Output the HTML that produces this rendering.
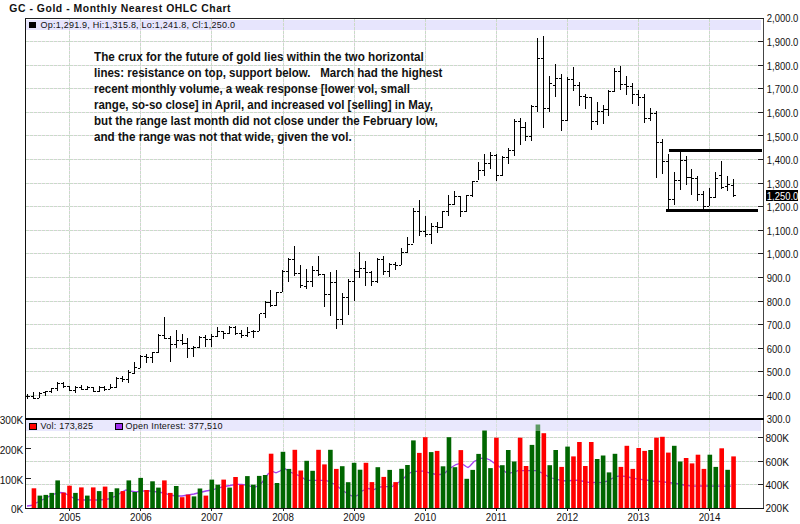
<!DOCTYPE html><html><head><meta charset="utf-8"><style>html,body{margin:0;padding:0;background:#fff;width:800px;height:524px;overflow:hidden}svg{display:block}text{font-family:"Liberation Sans",sans-serif}</style></head><body>
<svg width="800" height="524" viewBox="0 0 800 524" shape-rendering="crispEdges">
<rect width="800" height="524" fill="#fff"/>
<text x="9.3" y="11.5" font-size="10.4" font-weight="bold" fill="#111" letter-spacing="0.55">GC - Gold - Monthly Nearest OHLC Chart</text>
<rect x="26" y="20" width="735" height="10" fill="#e7e5fd"/>
<rect x="26" y="420" width="735" height="10.6" fill="#e9e8fd"/>
<line x1="26" y1="395.5" x2="762" y2="395.5" stroke="#f3d6f3" stroke-width="1"/>
<line x1="26" y1="395.5" x2="762" y2="395.5" stroke="#c9dcc9" stroke-width="1" stroke-dasharray="3,1"/>
<line x1="26" y1="371.5" x2="762" y2="371.5" stroke="#f3d6f3" stroke-width="1"/>
<line x1="26" y1="371.5" x2="762" y2="371.5" stroke="#c9dcc9" stroke-width="1" stroke-dasharray="3,1"/>
<line x1="26" y1="348.5" x2="762" y2="348.5" stroke="#f3d6f3" stroke-width="1"/>
<line x1="26" y1="348.5" x2="762" y2="348.5" stroke="#c9dcc9" stroke-width="1" stroke-dasharray="3,1"/>
<line x1="26" y1="324.5" x2="762" y2="324.5" stroke="#f3d6f3" stroke-width="1"/>
<line x1="26" y1="324.5" x2="762" y2="324.5" stroke="#c9dcc9" stroke-width="1" stroke-dasharray="3,1"/>
<line x1="26" y1="301.5" x2="762" y2="301.5" stroke="#f3d6f3" stroke-width="1"/>
<line x1="26" y1="301.5" x2="762" y2="301.5" stroke="#c9dcc9" stroke-width="1" stroke-dasharray="3,1"/>
<line x1="26" y1="277.5" x2="762" y2="277.5" stroke="#f3d6f3" stroke-width="1"/>
<line x1="26" y1="277.5" x2="762" y2="277.5" stroke="#c9dcc9" stroke-width="1" stroke-dasharray="3,1"/>
<line x1="26" y1="253.5" x2="762" y2="253.5" stroke="#f3d6f3" stroke-width="1"/>
<line x1="26" y1="253.5" x2="762" y2="253.5" stroke="#c9dcc9" stroke-width="1" stroke-dasharray="3,1"/>
<line x1="26" y1="230.5" x2="762" y2="230.5" stroke="#f3d6f3" stroke-width="1"/>
<line x1="26" y1="230.5" x2="762" y2="230.5" stroke="#c9dcc9" stroke-width="1" stroke-dasharray="3,1"/>
<line x1="26" y1="206.5" x2="762" y2="206.5" stroke="#f3d6f3" stroke-width="1"/>
<line x1="26" y1="206.5" x2="762" y2="206.5" stroke="#c9dcc9" stroke-width="1" stroke-dasharray="3,1"/>
<line x1="26" y1="183.5" x2="762" y2="183.5" stroke="#f3d6f3" stroke-width="1"/>
<line x1="26" y1="183.5" x2="762" y2="183.5" stroke="#c9dcc9" stroke-width="1" stroke-dasharray="3,1"/>
<line x1="26" y1="159.5" x2="762" y2="159.5" stroke="#f3d6f3" stroke-width="1"/>
<line x1="26" y1="159.5" x2="762" y2="159.5" stroke="#c9dcc9" stroke-width="1" stroke-dasharray="3,1"/>
<line x1="26" y1="135.5" x2="762" y2="135.5" stroke="#f3d6f3" stroke-width="1"/>
<line x1="26" y1="135.5" x2="762" y2="135.5" stroke="#c9dcc9" stroke-width="1" stroke-dasharray="3,1"/>
<line x1="26" y1="112.5" x2="762" y2="112.5" stroke="#f3d6f3" stroke-width="1"/>
<line x1="26" y1="112.5" x2="762" y2="112.5" stroke="#c9dcc9" stroke-width="1" stroke-dasharray="3,1"/>
<line x1="26" y1="88.5" x2="762" y2="88.5" stroke="#f3d6f3" stroke-width="1"/>
<line x1="26" y1="88.5" x2="762" y2="88.5" stroke="#c9dcc9" stroke-width="1" stroke-dasharray="3,1"/>
<line x1="26" y1="65.5" x2="762" y2="65.5" stroke="#f3d6f3" stroke-width="1"/>
<line x1="26" y1="65.5" x2="762" y2="65.5" stroke="#c9dcc9" stroke-width="1" stroke-dasharray="3,1"/>
<line x1="26" y1="41.5" x2="762" y2="41.5" stroke="#f3d6f3" stroke-width="1"/>
<line x1="26" y1="41.5" x2="762" y2="41.5" stroke="#c9dcc9" stroke-width="1" stroke-dasharray="3,1"/>
<line x1="69.5" y1="19" x2="69.5" y2="418" stroke="#f3d6f3" stroke-width="1"/>
<line x1="69.5" y1="19" x2="69.5" y2="418" stroke="#c9dcc9" stroke-width="1" stroke-dasharray="3,1"/>
<line x1="69.5" y1="420" x2="69.5" y2="508" stroke="#f3d6f3" stroke-width="1"/>
<line x1="69.5" y1="420" x2="69.5" y2="508" stroke="#c9dcc9" stroke-width="1" stroke-dasharray="3,1"/>
<line x1="140.5" y1="19" x2="140.5" y2="418" stroke="#f3d6f3" stroke-width="1"/>
<line x1="140.5" y1="19" x2="140.5" y2="418" stroke="#c9dcc9" stroke-width="1" stroke-dasharray="3,1"/>
<line x1="140.5" y1="420" x2="140.5" y2="508" stroke="#f3d6f3" stroke-width="1"/>
<line x1="140.5" y1="420" x2="140.5" y2="508" stroke="#c9dcc9" stroke-width="1" stroke-dasharray="3,1"/>
<line x1="211.5" y1="19" x2="211.5" y2="418" stroke="#f3d6f3" stroke-width="1"/>
<line x1="211.5" y1="19" x2="211.5" y2="418" stroke="#c9dcc9" stroke-width="1" stroke-dasharray="3,1"/>
<line x1="211.5" y1="420" x2="211.5" y2="508" stroke="#f3d6f3" stroke-width="1"/>
<line x1="211.5" y1="420" x2="211.5" y2="508" stroke="#c9dcc9" stroke-width="1" stroke-dasharray="3,1"/>
<line x1="283.5" y1="19" x2="283.5" y2="418" stroke="#f3d6f3" stroke-width="1"/>
<line x1="283.5" y1="19" x2="283.5" y2="418" stroke="#c9dcc9" stroke-width="1" stroke-dasharray="3,1"/>
<line x1="283.5" y1="420" x2="283.5" y2="508" stroke="#f3d6f3" stroke-width="1"/>
<line x1="283.5" y1="420" x2="283.5" y2="508" stroke="#c9dcc9" stroke-width="1" stroke-dasharray="3,1"/>
<line x1="354.5" y1="19" x2="354.5" y2="418" stroke="#f3d6f3" stroke-width="1"/>
<line x1="354.5" y1="19" x2="354.5" y2="418" stroke="#c9dcc9" stroke-width="1" stroke-dasharray="3,1"/>
<line x1="354.5" y1="420" x2="354.5" y2="508" stroke="#f3d6f3" stroke-width="1"/>
<line x1="354.5" y1="420" x2="354.5" y2="508" stroke="#c9dcc9" stroke-width="1" stroke-dasharray="3,1"/>
<line x1="425.5" y1="19" x2="425.5" y2="418" stroke="#f3d6f3" stroke-width="1"/>
<line x1="425.5" y1="19" x2="425.5" y2="418" stroke="#c9dcc9" stroke-width="1" stroke-dasharray="3,1"/>
<line x1="425.5" y1="420" x2="425.5" y2="508" stroke="#f3d6f3" stroke-width="1"/>
<line x1="425.5" y1="420" x2="425.5" y2="508" stroke="#c9dcc9" stroke-width="1" stroke-dasharray="3,1"/>
<line x1="496.5" y1="19" x2="496.5" y2="418" stroke="#f3d6f3" stroke-width="1"/>
<line x1="496.5" y1="19" x2="496.5" y2="418" stroke="#c9dcc9" stroke-width="1" stroke-dasharray="3,1"/>
<line x1="496.5" y1="420" x2="496.5" y2="508" stroke="#f3d6f3" stroke-width="1"/>
<line x1="496.5" y1="420" x2="496.5" y2="508" stroke="#c9dcc9" stroke-width="1" stroke-dasharray="3,1"/>
<line x1="567.5" y1="19" x2="567.5" y2="418" stroke="#f3d6f3" stroke-width="1"/>
<line x1="567.5" y1="19" x2="567.5" y2="418" stroke="#c9dcc9" stroke-width="1" stroke-dasharray="3,1"/>
<line x1="567.5" y1="420" x2="567.5" y2="508" stroke="#f3d6f3" stroke-width="1"/>
<line x1="567.5" y1="420" x2="567.5" y2="508" stroke="#c9dcc9" stroke-width="1" stroke-dasharray="3,1"/>
<line x1="638.5" y1="19" x2="638.5" y2="418" stroke="#f3d6f3" stroke-width="1"/>
<line x1="638.5" y1="19" x2="638.5" y2="418" stroke="#c9dcc9" stroke-width="1" stroke-dasharray="3,1"/>
<line x1="638.5" y1="420" x2="638.5" y2="508" stroke="#f3d6f3" stroke-width="1"/>
<line x1="638.5" y1="420" x2="638.5" y2="508" stroke="#c9dcc9" stroke-width="1" stroke-dasharray="3,1"/>
<line x1="709.5" y1="19" x2="709.5" y2="418" stroke="#f3d6f3" stroke-width="1"/>
<line x1="709.5" y1="19" x2="709.5" y2="418" stroke="#c9dcc9" stroke-width="1" stroke-dasharray="3,1"/>
<line x1="709.5" y1="420" x2="709.5" y2="508" stroke="#f3d6f3" stroke-width="1"/>
<line x1="709.5" y1="420" x2="709.5" y2="508" stroke="#c9dcc9" stroke-width="1" stroke-dasharray="3,1"/>
<line x1="26" y1="437.5" x2="762" y2="437.5" stroke="#f3d6f3" stroke-width="1"/>
<line x1="26" y1="437.5" x2="762" y2="437.5" stroke="#c9dcc9" stroke-width="1" stroke-dasharray="3,1"/>
<line x1="26" y1="461.5" x2="762" y2="461.5" stroke="#f3d6f3" stroke-width="1"/>
<line x1="26" y1="461.5" x2="762" y2="461.5" stroke="#c9dcc9" stroke-width="1" stroke-dasharray="3,1"/>
<line x1="26" y1="484.5" x2="762" y2="484.5" stroke="#f3d6f3" stroke-width="1"/>
<line x1="26" y1="484.5" x2="762" y2="484.5" stroke="#c9dcc9" stroke-width="1" stroke-dasharray="3,1"/>
<polyline points="27,506 31,505.5 36,503 42,500 48,497 54,494 60,492.5 64,493 70,496 76,499.5 84,500 92,500 100,500 108,499 116,496 122,492 126,490 130,491 136,492 142,491 150,491 158,492 164,493 170,495 176,496 182,496 188,495 194,494 200,492.5 206,491 212,490 218,488 224,486.5 230,485.5 236,484.3 242,484.3 248,485.5 254,487.5 260,485 264,480 268,474 272,471.2 276,472.8 280,471 284,468 290,472 296,474.3 302,477 306,480.4 312,480.4 318,480.4 322,480.4 326,480.4 330,482 336,485 342,490 348,494 354,497 358,495 362,491 368,488.5 374,489.5 380,487 386,486.6 392,486.6 398,483 404,478 408,474 412,472 418,471.2 424,471.2 430,473 436,474.5 440,474.5 444,474 448,470 452,467 456,464.5 460,463.4 464,465 466,466.5 468,467.5 470,466 474,461.5 478,459.5 482,458.2 486,458.5 490,460 494,463 498,465.5 502,469 506,472.5 510,473.2 514,472 518,470.6 530,470.6 536,470.6 540,472 544,474 548,476.5 552,478 556,479.2 560,480.2 566,481 572,480.5 578,480.2 584,481.5 590,482.7 596,482.4 602,482.7 608,481 612,478.5 616,476.5 620,475.8 626,476.5 632,478 638,479.2 646,480 652,481 660,481.5 668,482.5 676,483.5 684,485 692,486.1 700,486 708,486 716,486.1 724,486.1 731,486.1" fill="none" stroke="#a040f0" stroke-width="1.3" shape-rendering="auto"/>
<rect x="31.64" y="488.3" width="4.6" height="19.7" fill="#ff0000" shape-rendering="auto"/>
<rect x="37.57" y="495.6" width="4.6" height="12.4" fill="#006600" shape-rendering="auto"/>
<rect x="43.50" y="494.9" width="4.6" height="13.1" fill="#006600" shape-rendering="auto"/>
<rect x="49.43" y="492.9" width="4.6" height="15.1" fill="#006600" shape-rendering="auto"/>
<rect x="55.36" y="480.4" width="4.6" height="27.6" fill="#006600" shape-rendering="auto"/>
<rect x="61.28" y="492.6" width="4.6" height="15.4" fill="#ff0000" shape-rendering="auto"/>
<rect x="67.21" y="485.7" width="4.6" height="22.3" fill="#ff0000" shape-rendering="auto"/>
<rect x="73.14" y="492.9" width="4.6" height="15.1" fill="#006600" shape-rendering="auto"/>
<rect x="79.07" y="487.4" width="4.6" height="20.6" fill="#ff0000" shape-rendering="auto"/>
<rect x="85.00" y="495.6" width="4.6" height="12.4" fill="#006600" shape-rendering="auto"/>
<rect x="90.93" y="487.4" width="4.6" height="20.6" fill="#ff0000" shape-rendering="auto"/>
<rect x="96.86" y="491.1" width="4.6" height="16.9" fill="#006600" shape-rendering="auto"/>
<rect x="102.79" y="486.6" width="4.6" height="21.4" fill="#ff0000" shape-rendering="auto"/>
<rect x="108.72" y="492.0" width="4.6" height="16.0" fill="#006600" shape-rendering="auto"/>
<rect x="114.64" y="488.3" width="4.6" height="19.7" fill="#006600" shape-rendering="auto"/>
<rect x="120.57" y="491.1" width="4.6" height="16.9" fill="#ff0000" shape-rendering="auto"/>
<rect x="126.50" y="480.4" width="4.6" height="27.6" fill="#006600" shape-rendering="auto"/>
<rect x="132.43" y="492.0" width="4.6" height="16.0" fill="#006600" shape-rendering="auto"/>
<rect x="138.36" y="477.9" width="4.6" height="30.1" fill="#006600" shape-rendering="auto"/>
<rect x="144.29" y="490.0" width="4.6" height="18.0" fill="#ff0000" shape-rendering="auto"/>
<rect x="150.22" y="481.3" width="4.6" height="26.7" fill="#006600" shape-rendering="auto"/>
<rect x="156.15" y="487.6" width="4.6" height="20.4" fill="#006600" shape-rendering="auto"/>
<rect x="162.08" y="480.4" width="4.6" height="27.6" fill="#ff0000" shape-rendering="auto"/>
<rect x="168.01" y="492.9" width="4.6" height="15.1" fill="#ff0000" shape-rendering="auto"/>
<rect x="173.94" y="486.0" width="4.6" height="22.0" fill="#006600" shape-rendering="auto"/>
<rect x="179.86" y="497.2" width="4.6" height="10.8" fill="#ff0000" shape-rendering="auto"/>
<rect x="185.79" y="494.6" width="4.6" height="13.4" fill="#ff0000" shape-rendering="auto"/>
<rect x="191.72" y="496.4" width="4.6" height="11.6" fill="#006600" shape-rendering="auto"/>
<rect x="197.65" y="488.5" width="4.6" height="19.5" fill="#006600" shape-rendering="auto"/>
<rect x="203.58" y="495.6" width="4.6" height="12.4" fill="#ff0000" shape-rendering="auto"/>
<rect x="209.51" y="479.6" width="4.6" height="28.4" fill="#006600" shape-rendering="auto"/>
<rect x="215.44" y="484.7" width="4.6" height="23.3" fill="#006600" shape-rendering="auto"/>
<rect x="221.37" y="479.6" width="4.6" height="28.4" fill="#ff0000" shape-rendering="auto"/>
<rect x="227.30" y="487.6" width="4.6" height="20.4" fill="#006600" shape-rendering="auto"/>
<rect x="233.23" y="477.0" width="4.6" height="31.0" fill="#ff0000" shape-rendering="auto"/>
<rect x="239.15" y="484.7" width="4.6" height="23.3" fill="#ff0000" shape-rendering="auto"/>
<rect x="245.08" y="476.1" width="4.6" height="31.9" fill="#006600" shape-rendering="auto"/>
<rect x="251.01" y="484.7" width="4.6" height="23.3" fill="#006600" shape-rendering="auto"/>
<rect x="256.94" y="475.9" width="4.6" height="32.1" fill="#006600" shape-rendering="auto"/>
<rect x="262.87" y="475.0" width="4.6" height="33.0" fill="#006600" shape-rendering="auto"/>
<rect x="268.80" y="453.7" width="4.6" height="54.3" fill="#ff0000" shape-rendering="auto"/>
<rect x="274.73" y="483.0" width="4.6" height="25.0" fill="#006600" shape-rendering="auto"/>
<rect x="280.66" y="451.8" width="4.6" height="56.2" fill="#006600" shape-rendering="auto"/>
<rect x="286.59" y="468.9" width="4.6" height="39.1" fill="#006600" shape-rendering="auto"/>
<rect x="292.52" y="449.8" width="4.6" height="58.2" fill="#ff0000" shape-rendering="auto"/>
<rect x="298.44" y="470.5" width="4.6" height="37.5" fill="#ff0000" shape-rendering="auto"/>
<rect x="304.37" y="460.8" width="4.6" height="47.2" fill="#006600" shape-rendering="auto"/>
<rect x="310.30" y="470.8" width="4.6" height="37.2" fill="#006600" shape-rendering="auto"/>
<rect x="316.23" y="449.8" width="4.6" height="58.2" fill="#ff0000" shape-rendering="auto"/>
<rect x="322.16" y="464.4" width="4.6" height="43.6" fill="#ff0000" shape-rendering="auto"/>
<rect x="328.09" y="449.8" width="4.6" height="58.2" fill="#006600" shape-rendering="auto"/>
<rect x="334.02" y="468.9" width="4.6" height="39.1" fill="#ff0000" shape-rendering="auto"/>
<rect x="339.95" y="466.2" width="4.6" height="41.8" fill="#006600" shape-rendering="auto"/>
<rect x="345.88" y="482.2" width="4.6" height="25.8" fill="#006600" shape-rendering="auto"/>
<rect x="351.81" y="462.8" width="4.6" height="45.2" fill="#006600" shape-rendering="auto"/>
<rect x="357.73" y="469.7" width="4.6" height="38.3" fill="#006600" shape-rendering="auto"/>
<rect x="363.66" y="462.8" width="4.6" height="45.2" fill="#ff0000" shape-rendering="auto"/>
<rect x="369.59" y="482.1" width="4.6" height="25.9" fill="#ff0000" shape-rendering="auto"/>
<rect x="375.52" y="467.2" width="4.6" height="40.8" fill="#006600" shape-rendering="auto"/>
<rect x="381.45" y="476.9" width="4.6" height="31.1" fill="#ff0000" shape-rendering="auto"/>
<rect x="387.38" y="469.9" width="4.6" height="38.1" fill="#006600" shape-rendering="auto"/>
<rect x="393.31" y="482.1" width="4.6" height="25.9" fill="#ff0000" shape-rendering="auto"/>
<rect x="399.24" y="468.8" width="4.6" height="39.2" fill="#006600" shape-rendering="auto"/>
<rect x="405.17" y="465.0" width="4.6" height="43.0" fill="#006600" shape-rendering="auto"/>
<rect x="411.10" y="440.4" width="4.6" height="67.6" fill="#006600" shape-rendering="auto"/>
<rect x="417.02" y="452.9" width="4.6" height="55.1" fill="#ff0000" shape-rendering="auto"/>
<rect x="422.95" y="437.2" width="4.6" height="70.8" fill="#ff0000" shape-rendering="auto"/>
<rect x="428.88" y="452.1" width="4.6" height="55.9" fill="#006600" shape-rendering="auto"/>
<rect x="434.81" y="450.9" width="4.6" height="57.1" fill="#ff0000" shape-rendering="auto"/>
<rect x="440.74" y="466.3" width="4.6" height="41.7" fill="#006600" shape-rendering="auto"/>
<rect x="446.67" y="437.2" width="4.6" height="70.8" fill="#006600" shape-rendering="auto"/>
<rect x="452.60" y="467.2" width="4.6" height="40.8" fill="#006600" shape-rendering="auto"/>
<rect x="458.53" y="450.1" width="4.6" height="57.9" fill="#ff0000" shape-rendering="auto"/>
<rect x="464.46" y="478.8" width="4.6" height="29.2" fill="#006600" shape-rendering="auto"/>
<rect x="470.39" y="469.9" width="4.6" height="38.1" fill="#006600" shape-rendering="auto"/>
<rect x="476.31" y="453.9" width="4.6" height="54.1" fill="#006600" shape-rendering="auto"/>
<rect x="482.24" y="430.2" width="4.6" height="77.8" fill="#006600" shape-rendering="auto"/>
<rect x="488.17" y="468.1" width="4.6" height="39.9" fill="#006600" shape-rendering="auto"/>
<rect x="494.10" y="437.7" width="4.6" height="70.3" fill="#ff0000" shape-rendering="auto"/>
<rect x="500.03" y="465.2" width="4.6" height="42.8" fill="#006600" shape-rendering="auto"/>
<rect x="505.96" y="450.0" width="4.6" height="58.0" fill="#006600" shape-rendering="auto"/>
<rect x="511.89" y="461.5" width="4.6" height="46.5" fill="#006600" shape-rendering="auto"/>
<rect x="517.82" y="437.7" width="4.6" height="70.3" fill="#ff0000" shape-rendering="auto"/>
<rect x="523.75" y="466.0" width="4.6" height="42.0" fill="#ff0000" shape-rendering="auto"/>
<rect x="529.67" y="444.9" width="4.6" height="63.1" fill="#006600" shape-rendering="auto"/>
<rect x="535.60" y="424.5" width="4.6" height="83.5" fill="#006600" shape-rendering="auto"/>
<rect x="541.53" y="433.2" width="4.6" height="74.8" fill="#ff0000" shape-rendering="auto"/>
<rect x="547.46" y="465.2" width="4.6" height="42.8" fill="#006600" shape-rendering="auto"/>
<rect x="553.39" y="450.0" width="4.6" height="58.0" fill="#006600" shape-rendering="auto"/>
<rect x="559.32" y="466.9" width="4.6" height="41.1" fill="#ff0000" shape-rendering="auto"/>
<rect x="565.25" y="446.6" width="4.6" height="61.4" fill="#006600" shape-rendering="auto"/>
<rect x="571.18" y="456.4" width="4.6" height="51.6" fill="#ff0000" shape-rendering="auto"/>
<rect x="577.11" y="442.0" width="4.6" height="66.0" fill="#ff0000" shape-rendering="auto"/>
<rect x="583.04" y="466.0" width="4.6" height="42.0" fill="#ff0000" shape-rendering="auto"/>
<rect x="588.96" y="442.0" width="4.6" height="66.0" fill="#ff0000" shape-rendering="auto"/>
<rect x="594.89" y="459.0" width="4.6" height="49.0" fill="#006600" shape-rendering="auto"/>
<rect x="600.82" y="455.5" width="4.6" height="52.5" fill="#006600" shape-rendering="auto"/>
<rect x="606.75" y="472.4" width="4.6" height="35.6" fill="#006600" shape-rendering="auto"/>
<rect x="612.68" y="453.8" width="4.6" height="54.2" fill="#006600" shape-rendering="auto"/>
<rect x="618.61" y="466.9" width="4.6" height="41.1" fill="#ff0000" shape-rendering="auto"/>
<rect x="624.54" y="445.8" width="4.6" height="62.2" fill="#ff0000" shape-rendering="auto"/>
<rect x="630.47" y="468.9" width="4.6" height="39.1" fill="#ff0000" shape-rendering="auto"/>
<rect x="636.40" y="448.0" width="4.6" height="60.0" fill="#ff0000" shape-rendering="auto"/>
<rect x="642.33" y="450.9" width="4.6" height="57.1" fill="#ff0000" shape-rendering="auto"/>
<rect x="648.25" y="450.0" width="4.6" height="58.0" fill="#006600" shape-rendering="auto"/>
<rect x="654.18" y="437.7" width="4.6" height="70.3" fill="#ff0000" shape-rendering="auto"/>
<rect x="660.11" y="436.8" width="4.6" height="71.2" fill="#ff0000" shape-rendering="auto"/>
<rect x="666.04" y="452.6" width="4.6" height="55.4" fill="#ff0000" shape-rendering="auto"/>
<rect x="671.97" y="445.8" width="4.6" height="62.2" fill="#006600" shape-rendering="auto"/>
<rect x="677.90" y="461.5" width="4.6" height="46.5" fill="#006600" shape-rendering="auto"/>
<rect x="683.83" y="458.0" width="4.6" height="50.0" fill="#ff0000" shape-rendering="auto"/>
<rect x="689.76" y="463.4" width="4.6" height="44.6" fill="#ff0000" shape-rendering="auto"/>
<rect x="695.69" y="454.7" width="4.6" height="53.3" fill="#ff0000" shape-rendering="auto"/>
<rect x="701.62" y="468.9" width="4.6" height="39.1" fill="#ff0000" shape-rendering="auto"/>
<rect x="707.54" y="454.7" width="4.6" height="53.3" fill="#006600" shape-rendering="auto"/>
<rect x="713.47" y="466.9" width="4.6" height="41.1" fill="#006600" shape-rendering="auto"/>
<rect x="719.40" y="448.3" width="4.6" height="59.7" fill="#ff0000" shape-rendering="auto"/>
<rect x="725.33" y="469.8" width="4.6" height="38.2" fill="#006600" shape-rendering="auto"/>
<rect x="731.26" y="456.4" width="4.6" height="51.6" fill="#ff0000" shape-rendering="auto"/>
<rect x="26" y="420" width="735" height="10.6" fill="#e9e8fd" opacity="0.4"/>
<rect x="27" y="393.5" width="1" height="5.2" fill="#000"/>
<rect x="25" y="395.5" width="2" height="1.5" fill="#000"/>
<rect x="28" y="395.5" width="2" height="1.5" fill="#000"/>
<rect x="33" y="392.3" width="1" height="6.4" fill="#000"/>
<rect x="31" y="395.5" width="2" height="1.5" fill="#000"/>
<rect x="34" y="397.5" width="2" height="1.5" fill="#000"/>
<rect x="39" y="391.6" width="1" height="6.1" fill="#000"/>
<rect x="37" y="397.5" width="2" height="1.5" fill="#000"/>
<rect x="40" y="392.5" width="2" height="1.5" fill="#000"/>
<rect x="45" y="390.7" width="1" height="5.4" fill="#000"/>
<rect x="43" y="391.5" width="2" height="1.5" fill="#000"/>
<rect x="46" y="390.5" width="2" height="1.5" fill="#000"/>
<rect x="51" y="388.1" width="1" height="4.5" fill="#000"/>
<rect x="49" y="390.5" width="2" height="1.5" fill="#000"/>
<rect x="52" y="387.5" width="2" height="1.5" fill="#000"/>
<rect x="57" y="382.2" width="1" height="9.0" fill="#000"/>
<rect x="55" y="387.5" width="2" height="1.5" fill="#000"/>
<rect x="58" y="382.5" width="2" height="1.5" fill="#000"/>
<rect x="63" y="382.2" width="1" height="5.7" fill="#000"/>
<rect x="61" y="382.5" width="2" height="1.5" fill="#000"/>
<rect x="64" y="385.5" width="2" height="1.5" fill="#000"/>
<rect x="69" y="385.5" width="1" height="5.4" fill="#000"/>
<rect x="67" y="385.5" width="2" height="1.5" fill="#000"/>
<rect x="70" y="389.5" width="2" height="1.5" fill="#000"/>
<rect x="75" y="386.4" width="1" height="6.6" fill="#000"/>
<rect x="73" y="389.5" width="2" height="1.5" fill="#000"/>
<rect x="76" y="386.5" width="2" height="1.5" fill="#000"/>
<rect x="81" y="384.8" width="1" height="4.7" fill="#000"/>
<rect x="79" y="386.5" width="2" height="1.5" fill="#000"/>
<rect x="82" y="388.5" width="2" height="1.5" fill="#000"/>
<rect x="87" y="386.4" width="1" height="4.0" fill="#000"/>
<rect x="85" y="388.5" width="2" height="1.5" fill="#000"/>
<rect x="88" y="386.5" width="2" height="1.5" fill="#000"/>
<rect x="93" y="386.7" width="1" height="5.4" fill="#000"/>
<rect x="91" y="386.5" width="2" height="1.5" fill="#000"/>
<rect x="94" y="390.5" width="2" height="1.5" fill="#000"/>
<rect x="99" y="385.5" width="1" height="6.6" fill="#000"/>
<rect x="97" y="390.5" width="2" height="1.5" fill="#000"/>
<rect x="100" y="386.5" width="2" height="1.5" fill="#000"/>
<rect x="104" y="386.4" width="1" height="4.7" fill="#000"/>
<rect x="102" y="386.5" width="2" height="1.5" fill="#000"/>
<rect x="105" y="388.5" width="2" height="1.5" fill="#000"/>
<rect x="110" y="383.9" width="1" height="5.0" fill="#000"/>
<rect x="108" y="388.5" width="2" height="1.5" fill="#000"/>
<rect x="111" y="386.5" width="2" height="1.5" fill="#000"/>
<rect x="116" y="376.5" width="1" height="11.3" fill="#000"/>
<rect x="114" y="386.5" width="2" height="1.5" fill="#000"/>
<rect x="117" y="377.5" width="2" height="1.5" fill="#000"/>
<rect x="122" y="376.3" width="1" height="5.4" fill="#000"/>
<rect x="120" y="377.5" width="2" height="1.5" fill="#000"/>
<rect x="123" y="378.5" width="2" height="1.5" fill="#000"/>
<rect x="128" y="370.2" width="1" height="12.3" fill="#000"/>
<rect x="126" y="378.5" width="2" height="1.5" fill="#000"/>
<rect x="129" y="371.5" width="2" height="1.5" fill="#000"/>
<rect x="134" y="362.2" width="1" height="11.8" fill="#000"/>
<rect x="132" y="372.5" width="2" height="1.5" fill="#000"/>
<rect x="135" y="366.5" width="2" height="1.5" fill="#000"/>
<rect x="140" y="355.3" width="1" height="13.0" fill="#000"/>
<rect x="138" y="367.5" width="2" height="1.5" fill="#000"/>
<rect x="141" y="355.5" width="2" height="1.5" fill="#000"/>
<rect x="146" y="353.9" width="1" height="9.0" fill="#000"/>
<rect x="144" y="355.5" width="2" height="1.5" fill="#000"/>
<rect x="147" y="356.5" width="2" height="1.5" fill="#000"/>
<rect x="152" y="351.5" width="1" height="11.6" fill="#000"/>
<rect x="150" y="356.5" width="2" height="1.5" fill="#000"/>
<rect x="153" y="351.5" width="2" height="1.5" fill="#000"/>
<rect x="158" y="334.1" width="1" height="18.4" fill="#000"/>
<rect x="156" y="351.5" width="2" height="1.5" fill="#000"/>
<rect x="159" y="334.5" width="2" height="1.5" fill="#000"/>
<rect x="164" y="317.1" width="1" height="21.7" fill="#000"/>
<rect x="162" y="334.5" width="2" height="1.5" fill="#000"/>
<rect x="165" y="337.5" width="2" height="1.5" fill="#000"/>
<rect x="170" y="336.4" width="1" height="25.2" fill="#000"/>
<rect x="168" y="337.5" width="2" height="1.5" fill="#000"/>
<rect x="171" y="343.5" width="2" height="1.5" fill="#000"/>
<rect x="176" y="330.3" width="1" height="17.7" fill="#000"/>
<rect x="174" y="343.5" width="2" height="1.5" fill="#000"/>
<rect x="177" y="339.5" width="2" height="1.5" fill="#000"/>
<rect x="182" y="333.8" width="1" height="11.6" fill="#000"/>
<rect x="180" y="339.5" width="2" height="1.5" fill="#000"/>
<rect x="183" y="342.5" width="2" height="1.5" fill="#000"/>
<rect x="187" y="338.1" width="1" height="19.6" fill="#000"/>
<rect x="185" y="342.5" width="2" height="1.5" fill="#000"/>
<rect x="188" y="347.5" width="2" height="1.5" fill="#000"/>
<rect x="193" y="345.6" width="1" height="11.8" fill="#000"/>
<rect x="191" y="347.5" width="2" height="1.5" fill="#000"/>
<rect x="194" y="346.5" width="2" height="1.5" fill="#000"/>
<rect x="199" y="336.2" width="1" height="12.0" fill="#000"/>
<rect x="197" y="346.5" width="2" height="1.5" fill="#000"/>
<rect x="200" y="336.5" width="2" height="1.5" fill="#000"/>
<rect x="205" y="335.3" width="1" height="11.6" fill="#000"/>
<rect x="203" y="336.5" width="2" height="1.5" fill="#000"/>
<rect x="206" y="338.5" width="2" height="1.5" fill="#000"/>
<rect x="211" y="333.8" width="1" height="13.4" fill="#000"/>
<rect x="209" y="338.5" width="2" height="1.5" fill="#000"/>
<rect x="212" y="335.5" width="2" height="1.5" fill="#000"/>
<rect x="217" y="326.8" width="1" height="9.7" fill="#000"/>
<rect x="215" y="335.5" width="2" height="1.5" fill="#000"/>
<rect x="218" y="330.5" width="2" height="1.5" fill="#000"/>
<rect x="223" y="331.0" width="1" height="7.8" fill="#000"/>
<rect x="221" y="330.5" width="2" height="1.5" fill="#000"/>
<rect x="224" y="332.5" width="2" height="1.5" fill="#000"/>
<rect x="229" y="325.8" width="1" height="7.8" fill="#000"/>
<rect x="227" y="332.5" width="2" height="1.5" fill="#000"/>
<rect x="230" y="326.5" width="2" height="1.5" fill="#000"/>
<rect x="235" y="326.3" width="1" height="9.0" fill="#000"/>
<rect x="233" y="326.5" width="2" height="1.5" fill="#000"/>
<rect x="236" y="332.5" width="2" height="1.5" fill="#000"/>
<rect x="241" y="330.3" width="1" height="8.0" fill="#000"/>
<rect x="239" y="332.5" width="2" height="1.5" fill="#000"/>
<rect x="242" y="334.5" width="2" height="1.5" fill="#000"/>
<rect x="247" y="326.5" width="1" height="10.1" fill="#000"/>
<rect x="245" y="334.5" width="2" height="1.5" fill="#000"/>
<rect x="248" y="331.5" width="2" height="1.5" fill="#000"/>
<rect x="253" y="330.3" width="1" height="7.8" fill="#000"/>
<rect x="251" y="330.5" width="2" height="1.5" fill="#000"/>
<rect x="254" y="330.5" width="2" height="1.5" fill="#000"/>
<rect x="259" y="313.8" width="1" height="17.5" fill="#000"/>
<rect x="257" y="330.5" width="2" height="1.5" fill="#000"/>
<rect x="260" y="312.5" width="2" height="1.5" fill="#000"/>
<rect x="265" y="301.1" width="1" height="17.2" fill="#000"/>
<rect x="263" y="312.5" width="2" height="1.5" fill="#000"/>
<rect x="266" y="301.5" width="2" height="1.5" fill="#000"/>
<rect x="270" y="289.7" width="1" height="17.2" fill="#000"/>
<rect x="268" y="301.5" width="2" height="1.5" fill="#000"/>
<rect x="271" y="304.5" width="2" height="1.5" fill="#000"/>
<rect x="276" y="291.6" width="1" height="14.2" fill="#000"/>
<rect x="274" y="304.5" width="2" height="1.5" fill="#000"/>
<rect x="277" y="291.5" width="2" height="1.5" fill="#000"/>
<rect x="282" y="270.4" width="1" height="21.2" fill="#000"/>
<rect x="280" y="291.5" width="2" height="1.5" fill="#000"/>
<rect x="283" y="270.5" width="2" height="1.5" fill="#000"/>
<rect x="288" y="258.1" width="1" height="24.1" fill="#000"/>
<rect x="286" y="270.5" width="2" height="1.5" fill="#000"/>
<rect x="289" y="258.5" width="2" height="1.5" fill="#000"/>
<rect x="294" y="245.9" width="1" height="30.4" fill="#000"/>
<rect x="292" y="258.5" width="2" height="1.5" fill="#000"/>
<rect x="295" y="272.5" width="2" height="1.5" fill="#000"/>
<rect x="300" y="265.4" width="1" height="22.4" fill="#000"/>
<rect x="298" y="272.5" width="2" height="1.5" fill="#000"/>
<rect x="301" y="284.5" width="2" height="1.5" fill="#000"/>
<rect x="306" y="269.2" width="1" height="20.0" fill="#000"/>
<rect x="304" y="285.5" width="2" height="1.5" fill="#000"/>
<rect x="307" y="280.5" width="2" height="1.5" fill="#000"/>
<rect x="312" y="265.9" width="1" height="21.5" fill="#000"/>
<rect x="310" y="280.5" width="2" height="1.5" fill="#000"/>
<rect x="313" y="269.5" width="2" height="1.5" fill="#000"/>
<rect x="318" y="256.0" width="1" height="19.8" fill="#000"/>
<rect x="316" y="269.5" width="2" height="1.5" fill="#000"/>
<rect x="319" y="273.5" width="2" height="1.5" fill="#000"/>
<rect x="324" y="273.9" width="1" height="33.5" fill="#000"/>
<rect x="322" y="273.5" width="2" height="1.5" fill="#000"/>
<rect x="325" y="293.5" width="2" height="1.5" fill="#000"/>
<rect x="330" y="271.6" width="1" height="43.9" fill="#000"/>
<rect x="328" y="293.5" width="2" height="1.5" fill="#000"/>
<rect x="331" y="281.5" width="2" height="1.5" fill="#000"/>
<rect x="336" y="270.4" width="1" height="58.7" fill="#000"/>
<rect x="334" y="281.5" width="2" height="1.5" fill="#000"/>
<rect x="337" y="318.5" width="2" height="1.5" fill="#000"/>
<rect x="342" y="293.0" width="1" height="31.6" fill="#000"/>
<rect x="340" y="318.5" width="2" height="1.5" fill="#000"/>
<rect x="343" y="296.5" width="2" height="1.5" fill="#000"/>
<rect x="348" y="279.4" width="1" height="35.9" fill="#000"/>
<rect x="346" y="296.5" width="2" height="1.5" fill="#000"/>
<rect x="349" y="280.5" width="2" height="1.5" fill="#000"/>
<rect x="354" y="268.7" width="1" height="31.8" fill="#000"/>
<rect x="352" y="280.5" width="2" height="1.5" fill="#000"/>
<rect x="355" y="270.5" width="2" height="1.5" fill="#000"/>
<rect x="359" y="252.2" width="1" height="25.7" fill="#000"/>
<rect x="357" y="270.5" width="2" height="1.5" fill="#000"/>
<rect x="360" y="267.5" width="2" height="1.5" fill="#000"/>
<rect x="365" y="261.4" width="1" height="24.1" fill="#000"/>
<rect x="363" y="267.5" width="2" height="1.5" fill="#000"/>
<rect x="366" y="271.5" width="2" height="1.5" fill="#000"/>
<rect x="371" y="271.1" width="1" height="14.6" fill="#000"/>
<rect x="369" y="271.5" width="2" height="1.5" fill="#000"/>
<rect x="372" y="280.5" width="2" height="1.5" fill="#000"/>
<rect x="377" y="257.7" width="1" height="24.8" fill="#000"/>
<rect x="375" y="280.5" width="2" height="1.5" fill="#000"/>
<rect x="378" y="258.5" width="2" height="1.5" fill="#000"/>
<rect x="383" y="255.8" width="1" height="19.3" fill="#000"/>
<rect x="381" y="258.5" width="2" height="1.5" fill="#000"/>
<rect x="384" y="270.5" width="2" height="1.5" fill="#000"/>
<rect x="389" y="263.3" width="1" height="13.2" fill="#000"/>
<rect x="387" y="270.5" width="2" height="1.5" fill="#000"/>
<rect x="390" y="263.5" width="2" height="1.5" fill="#000"/>
<rect x="395" y="262.1" width="1" height="8.3" fill="#000"/>
<rect x="393" y="263.5" width="2" height="1.5" fill="#000"/>
<rect x="396" y="264.5" width="2" height="1.5" fill="#000"/>
<rect x="401" y="248.0" width="1" height="17.2" fill="#000"/>
<rect x="399" y="264.5" width="2" height="1.5" fill="#000"/>
<rect x="402" y="251.5" width="2" height="1.5" fill="#000"/>
<rect x="407" y="237.4" width="1" height="15.8" fill="#000"/>
<rect x="405" y="251.5" width="2" height="1.5" fill="#000"/>
<rect x="408" y="243.5" width="2" height="1.5" fill="#000"/>
<rect x="413" y="207.9" width="1" height="35.4" fill="#000"/>
<rect x="411" y="243.5" width="2" height="1.5" fill="#000"/>
<rect x="414" y="210.5" width="2" height="1.5" fill="#000"/>
<rect x="419" y="200.3" width="1" height="35.9" fill="#000"/>
<rect x="417" y="210.5" width="2" height="1.5" fill="#000"/>
<rect x="420" y="230.5" width="2" height="1.5" fill="#000"/>
<rect x="425" y="215.7" width="1" height="20.8" fill="#000"/>
<rect x="423" y="230.5" width="2" height="1.5" fill="#000"/>
<rect x="426" y="233.5" width="2" height="1.5" fill="#000"/>
<rect x="431" y="223.0" width="1" height="20.5" fill="#000"/>
<rect x="429" y="233.5" width="2" height="1.5" fill="#000"/>
<rect x="432" y="225.5" width="2" height="1.5" fill="#000"/>
<rect x="437" y="222.0" width="1" height="11.1" fill="#000"/>
<rect x="435" y="225.5" width="2" height="1.5" fill="#000"/>
<rect x="438" y="226.5" width="2" height="1.5" fill="#000"/>
<rect x="442" y="211.4" width="1" height="16.5" fill="#000"/>
<rect x="440" y="226.5" width="2" height="1.5" fill="#000"/>
<rect x="443" y="210.5" width="2" height="1.5" fill="#000"/>
<rect x="448" y="195.1" width="1" height="21.2" fill="#000"/>
<rect x="446" y="210.5" width="2" height="1.5" fill="#000"/>
<rect x="449" y="203.5" width="2" height="1.5" fill="#000"/>
<rect x="454" y="191.1" width="1" height="13.9" fill="#000"/>
<rect x="452" y="203.5" width="2" height="1.5" fill="#000"/>
<rect x="455" y="195.5" width="2" height="1.5" fill="#000"/>
<rect x="460" y="195.6" width="1" height="21.7" fill="#000"/>
<rect x="458" y="195.5" width="2" height="1.5" fill="#000"/>
<rect x="461" y="210.5" width="2" height="1.5" fill="#000"/>
<rect x="466" y="194.9" width="1" height="17.5" fill="#000"/>
<rect x="464" y="210.5" width="2" height="1.5" fill="#000"/>
<rect x="467" y="194.5" width="2" height="1.5" fill="#000"/>
<rect x="472" y="180.5" width="1" height="16.3" fill="#000"/>
<rect x="470" y="194.5" width="2" height="1.5" fill="#000"/>
<rect x="473" y="180.5" width="2" height="1.5" fill="#000"/>
<rect x="478" y="162.4" width="1" height="17.2" fill="#000"/>
<rect x="476" y="180.5" width="2" height="1.5" fill="#000"/>
<rect x="479" y="169.5" width="2" height="1.5" fill="#000"/>
<rect x="484" y="153.9" width="1" height="22.2" fill="#000"/>
<rect x="482" y="169.5" width="2" height="1.5" fill="#000"/>
<rect x="485" y="162.5" width="2" height="1.5" fill="#000"/>
<rect x="490" y="152.0" width="1" height="17.0" fill="#000"/>
<rect x="488" y="162.5" width="2" height="1.5" fill="#000"/>
<rect x="491" y="154.5" width="2" height="1.5" fill="#000"/>
<rect x="496" y="153.9" width="1" height="27.1" fill="#000"/>
<rect x="494" y="154.5" width="2" height="1.5" fill="#000"/>
<rect x="497" y="174.5" width="2" height="1.5" fill="#000"/>
<rect x="502" y="155.8" width="1" height="20.3" fill="#000"/>
<rect x="500" y="174.5" width="2" height="1.5" fill="#000"/>
<rect x="503" y="156.5" width="2" height="1.5" fill="#000"/>
<rect x="508" y="148.4" width="1" height="15.1" fill="#000"/>
<rect x="506" y="156.5" width="2" height="1.5" fill="#000"/>
<rect x="509" y="149.5" width="2" height="1.5" fill="#000"/>
<rect x="514" y="119.0" width="1" height="36.6" fill="#000"/>
<rect x="512" y="149.5" width="2" height="1.5" fill="#000"/>
<rect x="515" y="120.5" width="2" height="1.5" fill="#000"/>
<rect x="520" y="117.5" width="1" height="27.4" fill="#000"/>
<rect x="518" y="120.5" width="2" height="1.5" fill="#000"/>
<rect x="521" y="126.5" width="2" height="1.5" fill="#000"/>
<rect x="525" y="121.8" width="1" height="19.6" fill="#000"/>
<rect x="523" y="126.5" width="2" height="1.5" fill="#000"/>
<rect x="526" y="135.5" width="2" height="1.5" fill="#000"/>
<rect x="531" y="104.8" width="1" height="36.3" fill="#000"/>
<rect x="529" y="135.5" width="2" height="1.5" fill="#000"/>
<rect x="532" y="105.5" width="2" height="1.5" fill="#000"/>
<rect x="537" y="37.6" width="1" height="74.1" fill="#000"/>
<rect x="535" y="105.5" width="2" height="1.5" fill="#000"/>
<rect x="538" y="57.5" width="2" height="1.5" fill="#000"/>
<rect x="543" y="36.2" width="1" height="91.5" fill="#000"/>
<rect x="541" y="57.5" width="2" height="1.5" fill="#000"/>
<rect x="544" y="107.5" width="2" height="1.5" fill="#000"/>
<rect x="549" y="76.0" width="1" height="35.6" fill="#000"/>
<rect x="547" y="107.5" width="2" height="1.5" fill="#000"/>
<rect x="550" y="82.5" width="2" height="1.5" fill="#000"/>
<rect x="555" y="64.2" width="1" height="32.3" fill="#000"/>
<rect x="553" y="84.5" width="2" height="1.5" fill="#000"/>
<rect x="556" y="77.5" width="2" height="1.5" fill="#000"/>
<rect x="561" y="73.7" width="1" height="56.8" fill="#000"/>
<rect x="559" y="77.5" width="2" height="1.5" fill="#000"/>
<rect x="562" y="119.5" width="2" height="1.5" fill="#000"/>
<rect x="567" y="77.0" width="1" height="44.1" fill="#000"/>
<rect x="565" y="119.5" width="2" height="1.5" fill="#000"/>
<rect x="568" y="78.5" width="2" height="1.5" fill="#000"/>
<rect x="573" y="67.3" width="1" height="23.4" fill="#000"/>
<rect x="571" y="78.5" width="2" height="1.5" fill="#000"/>
<rect x="574" y="84.5" width="2" height="1.5" fill="#000"/>
<rect x="579" y="82.2" width="1" height="23.8" fill="#000"/>
<rect x="577" y="84.5" width="2" height="1.5" fill="#000"/>
<rect x="580" y="95.5" width="2" height="1.5" fill="#000"/>
<rect x="585" y="93.5" width="1" height="15.8" fill="#000"/>
<rect x="583" y="95.5" width="2" height="1.5" fill="#000"/>
<rect x="586" y="96.5" width="2" height="1.5" fill="#000"/>
<rect x="591" y="97.3" width="1" height="32.3" fill="#000"/>
<rect x="589" y="96.5" width="2" height="1.5" fill="#000"/>
<rect x="592" y="120.5" width="2" height="1.5" fill="#000"/>
<rect x="597" y="102.2" width="1" height="23.1" fill="#000"/>
<rect x="595" y="120.5" width="2" height="1.5" fill="#000"/>
<rect x="598" y="110.5" width="2" height="1.5" fill="#000"/>
<rect x="603" y="105.0" width="1" height="18.6" fill="#000"/>
<rect x="601" y="110.5" width="2" height="1.5" fill="#000"/>
<rect x="604" y="108.5" width="2" height="1.5" fill="#000"/>
<rect x="608" y="89.9" width="1" height="25.9" fill="#000"/>
<rect x="606" y="108.5" width="2" height="1.5" fill="#000"/>
<rect x="609" y="90.5" width="2" height="1.5" fill="#000"/>
<rect x="614" y="67.5" width="1" height="24.5" fill="#000"/>
<rect x="612" y="90.5" width="2" height="1.5" fill="#000"/>
<rect x="615" y="70.5" width="2" height="1.5" fill="#000"/>
<rect x="620" y="65.6" width="1" height="24.5" fill="#000"/>
<rect x="618" y="70.5" width="2" height="1.5" fill="#000"/>
<rect x="621" y="83.5" width="2" height="1.5" fill="#000"/>
<rect x="626" y="76.0" width="1" height="19.3" fill="#000"/>
<rect x="624" y="83.5" width="2" height="1.5" fill="#000"/>
<rect x="627" y="85.5" width="2" height="1.5" fill="#000"/>
<rect x="632" y="82.6" width="1" height="21.5" fill="#000"/>
<rect x="630" y="85.5" width="2" height="1.5" fill="#000"/>
<rect x="633" y="93.5" width="2" height="1.5" fill="#000"/>
<rect x="638" y="89.7" width="1" height="16.5" fill="#000"/>
<rect x="636" y="93.5" width="2" height="1.5" fill="#000"/>
<rect x="639" y="96.5" width="2" height="1.5" fill="#000"/>
<rect x="644" y="93.7" width="1" height="29.2" fill="#000"/>
<rect x="642" y="96.5" width="2" height="1.5" fill="#000"/>
<rect x="645" y="117.5" width="2" height="1.5" fill="#000"/>
<rect x="650" y="108.3" width="1" height="12.5" fill="#000"/>
<rect x="648" y="117.5" width="2" height="1.5" fill="#000"/>
<rect x="651" y="112.5" width="2" height="1.5" fill="#000"/>
<rect x="656" y="111.2" width="1" height="67.0" fill="#000"/>
<rect x="654" y="112.5" width="2" height="1.5" fill="#000"/>
<rect x="657" y="141.5" width="2" height="1.5" fill="#000"/>
<rect x="662" y="138.8" width="1" height="35.4" fill="#000"/>
<rect x="660" y="141.5" width="2" height="1.5" fill="#000"/>
<rect x="663" y="160.5" width="2" height="1.5" fill="#000"/>
<rect x="668" y="153.9" width="1" height="57.6" fill="#000"/>
<rect x="666" y="160.5" width="2" height="1.5" fill="#000"/>
<rect x="669" y="198.5" width="2" height="1.5" fill="#000"/>
<rect x="674" y="171.8" width="1" height="33.3" fill="#000"/>
<rect x="672" y="198.5" width="2" height="1.5" fill="#000"/>
<rect x="675" y="179.5" width="2" height="1.5" fill="#000"/>
<rect x="680" y="151.5" width="1" height="38.2" fill="#000"/>
<rect x="678" y="179.5" width="2" height="1.5" fill="#000"/>
<rect x="681" y="159.5" width="2" height="1.5" fill="#000"/>
<rect x="686" y="155.8" width="1" height="29.2" fill="#000"/>
<rect x="684" y="159.5" width="2" height="1.5" fill="#000"/>
<rect x="687" y="176.5" width="2" height="1.5" fill="#000"/>
<rect x="691" y="168.5" width="1" height="26.2" fill="#000"/>
<rect x="689" y="176.5" width="2" height="1.5" fill="#000"/>
<rect x="692" y="177.5" width="2" height="1.5" fill="#000"/>
<rect x="697" y="176.3" width="1" height="24.5" fill="#000"/>
<rect x="695" y="177.5" width="2" height="1.5" fill="#000"/>
<rect x="698" y="193.5" width="2" height="1.5" fill="#000"/>
<rect x="703" y="190.9" width="1" height="20.0" fill="#000"/>
<rect x="701" y="193.5" width="2" height="1.5" fill="#000"/>
<rect x="704" y="205.5" width="2" height="1.5" fill="#000"/>
<rect x="709" y="187.8" width="1" height="18.4" fill="#000"/>
<rect x="707" y="205.5" width="2" height="1.5" fill="#000"/>
<rect x="710" y="196.5" width="2" height="1.5" fill="#000"/>
<rect x="715" y="172.3" width="1" height="25.2" fill="#000"/>
<rect x="713" y="196.5" width="2" height="1.5" fill="#000"/>
<rect x="716" y="177.5" width="2" height="1.5" fill="#000"/>
<rect x="721" y="161.4" width="1" height="27.1" fill="#000"/>
<rect x="719" y="174.5" width="2" height="1.5" fill="#000"/>
<rect x="722" y="186.5" width="2" height="1.5" fill="#000"/>
<rect x="727" y="175.8" width="1" height="14.9" fill="#000"/>
<rect x="725" y="185.5" width="2" height="1.5" fill="#000"/>
<rect x="728" y="183.5" width="2" height="1.5" fill="#000"/>
<rect x="733" y="179.4" width="1" height="17.5" fill="#000"/>
<rect x="731" y="184.5" width="2" height="1.5" fill="#000"/>
<rect x="734" y="194.5" width="2" height="1.5" fill="#000"/>
<rect x="669" y="149.3" width="92.5" height="2.8" fill="#000"/>
<rect x="666" y="208.9" width="92" height="2.8" fill="#000"/>
<rect x="29.3" y="22" width="6.7" height="6.3" fill="#000"/>
<text x="40.5" y="28.2" font-size="9" fill="#111" letter-spacing="0.23">Op:1,291.9, Hi:1,315.8, Lo:1,241.8, Cl:1,250.0</text>
<rect x="29.5" y="423" width="6.5" height="6.5" fill="#f00" stroke="#000" stroke-width="1"/>
<text x="40.5" y="429" font-size="9" fill="#111" letter-spacing="0.23">Vol: 173,825</text>
<rect x="115.5" y="423" width="6.5" height="6.5" fill="#a030f0" stroke="#000" stroke-width="1"/>
<text x="125.5" y="429" font-size="9" fill="#111" letter-spacing="0.23">Open Interest: 377,510</text>
<rect x="25" y="18" width="1" height="491" fill="#111"/>
<rect x="763" y="18" width="1" height="491" fill="#444"/>
<rect x="25" y="17.5" width="739" height="1.2" fill="#222"/>
<rect x="25" y="418" width="739" height="2" fill="#000"/>
<rect x="25" y="508" width="739" height="1" fill="#111"/>
<rect x="758" y="395" width="5" height="1" fill="#222"/>
<text transform="translate(766.80,400.01) scale(0.92,1)" font-size="10.3" fill="#111">400.0</text>
<rect x="758" y="371" width="5" height="1" fill="#222"/>
<text transform="translate(766.80,376.42) scale(0.92,1)" font-size="10.3" fill="#111">500.0</text>
<rect x="758" y="348" width="5" height="1" fill="#222"/>
<text transform="translate(766.80,352.84) scale(0.92,1)" font-size="10.3" fill="#111">600.0</text>
<rect x="758" y="324" width="5" height="1" fill="#222"/>
<text transform="translate(766.80,329.25) scale(0.92,1)" font-size="10.3" fill="#111">700.0</text>
<rect x="758" y="301" width="5" height="1" fill="#222"/>
<text transform="translate(766.80,305.66) scale(0.92,1)" font-size="10.3" fill="#111">800.0</text>
<rect x="758" y="277" width="5" height="1" fill="#222"/>
<text transform="translate(766.80,282.07) scale(0.92,1)" font-size="10.3" fill="#111">900.0</text>
<rect x="758" y="253" width="5" height="1" fill="#222"/>
<text transform="translate(766.80,258.48) scale(0.92,1)" font-size="10.3" fill="#111">1,000.0</text>
<rect x="758" y="230" width="5" height="1" fill="#222"/>
<text transform="translate(766.80,234.89) scale(0.92,1)" font-size="10.3" fill="#111">1,100.0</text>
<rect x="758" y="206" width="5" height="1" fill="#222"/>
<text transform="translate(766.80,211.31) scale(0.92,1)" font-size="10.3" fill="#111">1,200.0</text>
<rect x="758" y="183" width="5" height="1" fill="#222"/>
<text transform="translate(766.80,187.72) scale(0.92,1)" font-size="10.3" fill="#111">1,300.0</text>
<rect x="758" y="159" width="5" height="1" fill="#222"/>
<text transform="translate(766.80,164.13) scale(0.92,1)" font-size="10.3" fill="#111">1,400.0</text>
<rect x="758" y="135" width="5" height="1" fill="#222"/>
<text transform="translate(766.80,140.54) scale(0.92,1)" font-size="10.3" fill="#111">1,500.0</text>
<rect x="758" y="112" width="5" height="1" fill="#222"/>
<text transform="translate(766.80,116.95) scale(0.92,1)" font-size="10.3" fill="#111">1,600.0</text>
<rect x="758" y="88" width="5" height="1" fill="#222"/>
<text transform="translate(766.80,93.36) scale(0.92,1)" font-size="10.3" fill="#111">1,700.0</text>
<rect x="758" y="65" width="5" height="1" fill="#222"/>
<text transform="translate(766.80,69.78) scale(0.92,1)" font-size="10.3" fill="#111">1,800.0</text>
<rect x="758" y="41" width="5" height="1" fill="#222"/>
<text transform="translate(766.80,46.19) scale(0.92,1)" font-size="10.3" fill="#111">1,900.0</text>
<text transform="translate(766.80,22.20) scale(0.92,1)" font-size="10.3" fill="#111">2,000.0</text>
<text transform="translate(766.80,422.80) scale(0.92,1)" font-size="10.3" fill="#111">300.0</text>
<rect x="766" y="190.3" width="32" height="10.7" fill="#000"/>
<text transform="translate(766.80,199.60) scale(0.92,1)" font-size="10.3" fill="#fff">1,250.0</text>
<rect x="758" y="437" width="5" height="1" fill="#222"/>
<text transform="translate(765.50,441.70) scale(0.98,1)" font-size="10.3" fill="#111">800K</text>
<rect x="758" y="461" width="5" height="1" fill="#222"/>
<text transform="translate(765.50,465.70) scale(0.98,1)" font-size="10.3" fill="#111">600K</text>
<rect x="758" y="484" width="5" height="1" fill="#222"/>
<text transform="translate(765.50,488.70) scale(0.98,1)" font-size="10.3" fill="#111">400K</text>
<text transform="translate(765.50,512.20) scale(0.97,1)" font-size="10.3" fill="#111">200K</text>
<rect x="26" y="448" width="5" height="1" fill="#222"/>
<rect x="26" y="478" width="5" height="1" fill="#222"/>
<text transform="translate(23.30,424.00) scale(0.98,1)" font-size="10.3" fill="#111" text-anchor="end">300K</text>
<text transform="translate(23.30,454.00) scale(0.98,1)" font-size="10.3" fill="#111" text-anchor="end">200K</text>
<text transform="translate(23.30,484.00) scale(0.98,1)" font-size="10.3" fill="#111" text-anchor="end">100K</text>
<text transform="translate(23.30,513.00) scale(0.98,1)" font-size="10.3" fill="#111" text-anchor="end">0K</text>
<rect x="69" y="509" width="1" height="2" fill="#222"/>
<text transform="translate(69.80,520.80) scale(0.95,1)" font-size="10.3" fill="#111" text-anchor="middle">2005</text>
<rect x="140" y="509" width="1" height="2" fill="#222"/>
<text transform="translate(140.88,520.80) scale(0.95,1)" font-size="10.3" fill="#111" text-anchor="middle">2006</text>
<rect x="211" y="509" width="1" height="2" fill="#222"/>
<text transform="translate(211.96,520.80) scale(0.95,1)" font-size="10.3" fill="#111" text-anchor="middle">2007</text>
<rect x="283" y="509" width="1" height="2" fill="#222"/>
<text transform="translate(283.04,520.80) scale(0.95,1)" font-size="10.3" fill="#111" text-anchor="middle">2008</text>
<rect x="354" y="509" width="1" height="2" fill="#222"/>
<text transform="translate(354.12,520.80) scale(0.95,1)" font-size="10.3" fill="#111" text-anchor="middle">2009</text>
<rect x="425" y="509" width="1" height="2" fill="#222"/>
<text transform="translate(425.20,520.80) scale(0.95,1)" font-size="10.3" fill="#111" text-anchor="middle">2010</text>
<rect x="496" y="509" width="1" height="2" fill="#222"/>
<text transform="translate(496.28,520.80) scale(0.95,1)" font-size="10.3" fill="#111" text-anchor="middle">2011</text>
<rect x="567" y="509" width="1" height="2" fill="#222"/>
<text transform="translate(567.36,520.80) scale(0.95,1)" font-size="10.3" fill="#111" text-anchor="middle">2012</text>
<rect x="638" y="509" width="1" height="2" fill="#222"/>
<text transform="translate(638.44,520.80) scale(0.95,1)" font-size="10.3" fill="#111" text-anchor="middle">2013</text>
<rect x="709" y="509" width="1" height="2" fill="#222"/>
<text transform="translate(709.52,520.80) scale(0.95,1)" font-size="10.3" fill="#111" text-anchor="middle">2014</text>
</svg>
<div style="position:absolute;left:93.8px;top:48.6px;font-family:'Liberation Sans',sans-serif;font-weight:bold;font-size:12px;line-height:16px;color:#111;white-space:nowrap">
<div class="ln" style="transform:scaleX(0.974);transform-origin:0 0">The crux for the future of gold lies within the two horizontal</div>
<div class="ln" style="transform:scaleX(0.96);transform-origin:0 0">lines: resistance on top, support below.&#160;&#160; March had the highest</div>
<div class="ln" style="transform:scaleX(0.955);transform-origin:0 0">recent monthly volume, a weak response [lower vol, small</div>
<div class="ln" style="transform:scaleX(0.957);transform-origin:0 0">range, so-so close] in April, and increased vol [selling] in May,</div>
<div class="ln" style="transform:scaleX(0.965);transform-origin:0 0">but the range last month did not close under the February low,</div>
<div class="ln" style="transform:scaleX(0.971);transform-origin:0 0">and the range was not that wide, given the vol.</div>
</div>
</body></html>
